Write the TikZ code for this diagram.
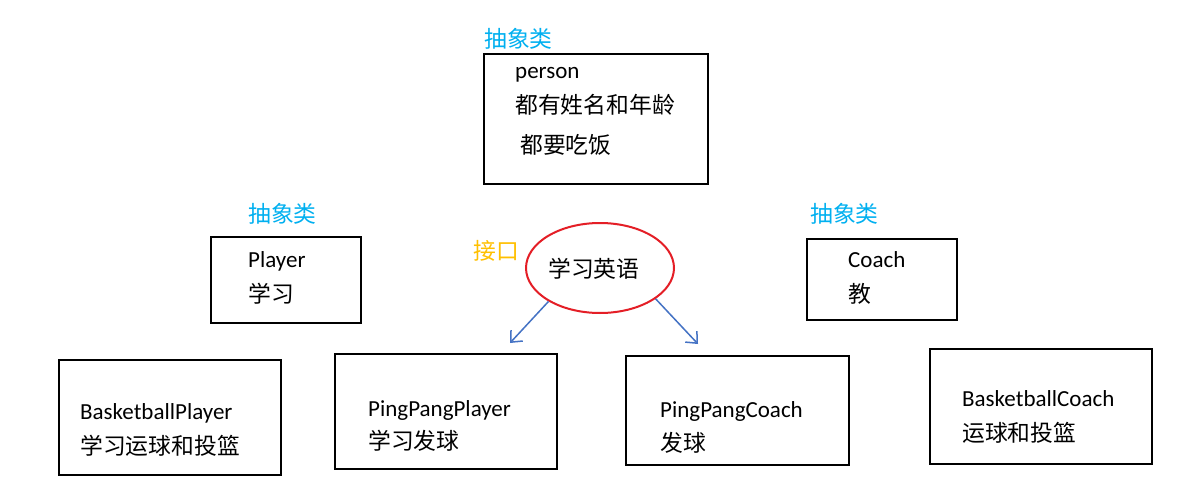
\documentclass[tikz,border=0pt]{standalone}
\usepackage{fontspec}
\setmainfont{Carlito}
\newfontfamily\cjk{Noto Sans CJK SC}
\usetikzlibrary{shapes.geometric,arrows.meta}
\definecolor{absblue}{RGB}{0,176,240}
\definecolor{ifgold}{RGB}{255,192,0}
\definecolor{arrblue}{RGB}{68,114,196}
\definecolor{ovalred}{RGB}{228,30,38}
\begin{document}
\begin{tikzpicture}[x=1pt,y=-1pt,
    box/.style={draw,line width=2pt,inner sep=0pt,anchor=north west},
    word/.style={anchor=base west,inner sep=0pt,font=\fontsize{23}{26}\selectfont},
    han/.style={anchor=base west,inner sep=0pt,font=\cjk\fontsize{22.8}{26}\selectfont},
    abstag/.style={han,text=absblue},
    learn/.style={->,>={Straight Barb[length=9pt,width=16pt]},draw=arrblue,line width=1.5pt}]
  \fill[white] (0,0) rectangle (1199,503);
  \useasboundingbox (0,0) rectangle (1199,503);

  % abstract classes
  \node[box,minimum width=224,minimum height=130] (person) at (483,53) {};
  \node[abstag] (tag0) at (484,48) {抽象类};
  \node[word] (person0) at (515,78) {person};
  \node[han] (person1) at (515,113) {都有姓名和年龄};
  \node[han] (person2) at (520,153) {都要吃饭};

  \node[box,minimum width=150,minimum height=86] (player) at (210,236) {};
  \node[abstag] (tag1) at (248,222) {抽象类};
  \node[word] (player0) at (248,267) {Player};
  \node[han] (player1) at (248,302) {学习};

  \node[box,minimum width=150,minimum height=81] (coach) at (806,238) {};
  \node[abstag] (tag2) at (810,222) {抽象类};
  \node[word] (coach0) at (848,267) {Coach};
  \node[han] (coach1) at (848,302) {教};

  % interface
  \node[han,text=ifgold] (tag3) at (473,259) {接口};
  \node[ellipse,draw=ovalred,line width=2pt,minimum width=148,minimum height=90] (english) at (600,268) {};
  \node[han] (english0) at (548,277) {学习英语};

  % concrete classes
  \node[box,minimum width=222,minimum height=115] (bplayer) at (58,359) {};
  \node[word] (bplayer0) at (80,419) {BasketballPlayer};
  \node[han] (bplayer1) at (80,454) {学习运球和投篮};

  \node[box,minimum width=222,minimum height=115] (pplayer) at (334,353) {};
  \node[word] (pplayer0) at (368,416) {PingPangPlayer};
  \node[han] (pplayer1) at (368,449) {学习发球};

  \node[box,minimum width=223,minimum height=109] (pcoach) at (625,355) {};
  \node[word] (pcoach0) at (660,417) {PingPangCoach};
  \node[han] (pcoach1) at (660,451) {发球};

  \node[box,minimum width=222,minimum height=115] (bcoach) at (929,348) {};
  \node[word] (bcoach0) at (962,406) {BasketballCoach};
  \node[han] (bcoach1) at (962,441) {运球和投篮};

  \coordinate (pptip) at (510,343);
  \coordinate (pctip) at (698,344);
  \draw[learn] (english.213) -- (pptip);
  \draw[learn] (english.331) -- (pctip);
\end{tikzpicture}
\end{document}
